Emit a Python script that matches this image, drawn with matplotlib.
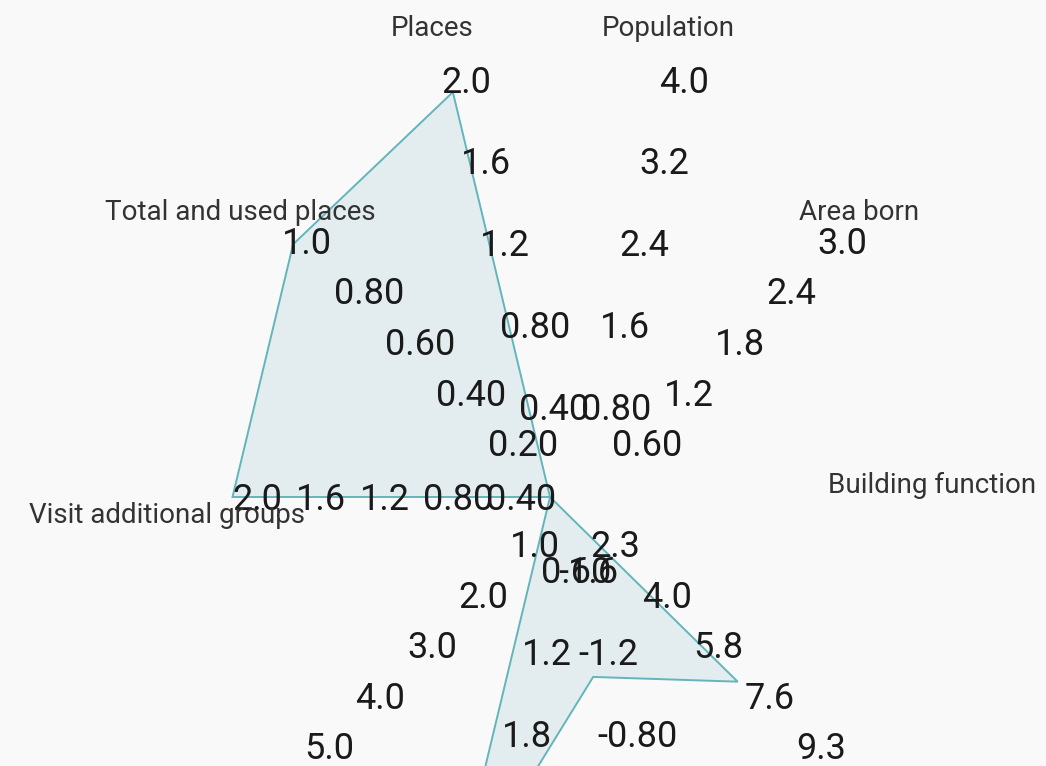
import numpy as np
import matplotlib
matplotlib.use("Agg")
import matplotlib.pyplot as plt

plt.rcParams["font.family"] = ["Roboto", "DejaVu Sans"]

# Radar indicators, counter-clockwise starting just left of the top.
# Names of the four lower indicators are outside the visible crop.
axis_names = [
    "Places",
    "Total and used places",
    "Visit additional groups",
    "",
    "",
    "",
    "",
    "Building function",
    "Area born",
    "Population",
]
axis_min = [0.0, 0.0, 0.0, 0.0, 0.0, -2.0, 0.52, 0.0, 0.0, 0.0]
axis_max = [2.0, 1.0, 2.0, 5.0, 3.0, 0.0, 9.32, 1.0, 3.0, 4.0]
axis_has_labels = [True, True, True, True, True, True, True, False, True, True]
series_values = [1.98, 1.0, 2.0, 0.0, 3.0, -1.12, 6.95, 0.0, 0.0, 0.0]

SPLITS = 5
W, H = 1046, 766

# layout (pixels): radar centre and radii, the canvas is stretched vertically
CX, CY = 550, 497
RX, RY = 317.5, 430
NAME_GAP = 65
name_nudge = [0, -4, -16, 0, 0, 0, 0, 14, -4, 0]

fig = plt.figure(figsize=(W / 100, H / 100), dpi=100, facecolor="#f9f9f9")
ax = fig.add_axes(
    [(CX - RX) / W, (H - CY - RY) / H, 2 * RX / W, 2 * RY / H],
    projection="polar",
)
ax.set_aspect("auto")
ax.set_theta_zero_location("N")
ax.set_theta_direction(1)
ax.set_ylim(0, 1)
ax.axis("off")

n = len(axis_names)
angles = np.deg2rad(18 + 36 * np.arange(n))
mins = np.array(axis_min)
maxs = np.array(axis_max)
span = np.where(maxs > mins, maxs - mins, 1.0)
radii = (np.array(series_values) - mins) / span

theta_closed = np.append(angles, angles[0])
r_closed = np.append(radii, radii[0])
ax.fill(theta_closed, r_closed, facecolor="#e3edef", edgecolor="#63b5bb",
        linewidth=1.4, zorder=1, clip_on=False)

# tick labels along each indicator
for k in range(n):
    if not axis_has_labels[k]:
        continue
    th = angles[k]
    dx = -11 * np.sign(np.round(np.sin(2 * th), 6))
    dy = 9 * np.cos(th) ** 2 - 12.8  # baseline below the label centre
    ticks = np.linspace(axis_min[k], axis_max[k], SPLITS + 1)[1:]
    for i, val in enumerate(ticks, start=1):
        val = round(float(val), 10)
        ax.annotate(f"{val:#.2g}", xy=(th, i / SPLITS), xytext=(dx, dy),
                    textcoords="offset pixels", ha="left", va="baseline",
                    fontsize=26, color="#1a1a1a", zorder=3,
                    annotation_clip=False)

# indicator names
for k in range(n):
    if not axis_names[k]:
        continue
    th = angles[k]
    ox = -NAME_GAP * np.sin(th)
    oy = NAME_GAP * np.cos(th) + name_nudge[k] - 10
    ax.annotate(axis_names[k], xy=(th, 1.0), xytext=(ox, oy),
                textcoords="offset pixels", ha="center", va="baseline",
                fontsize=20, color="#333333", zorder=3,
                annotation_clip=False)

fig.savefig("out.png", dpi=100, facecolor=fig.get_facecolor())
